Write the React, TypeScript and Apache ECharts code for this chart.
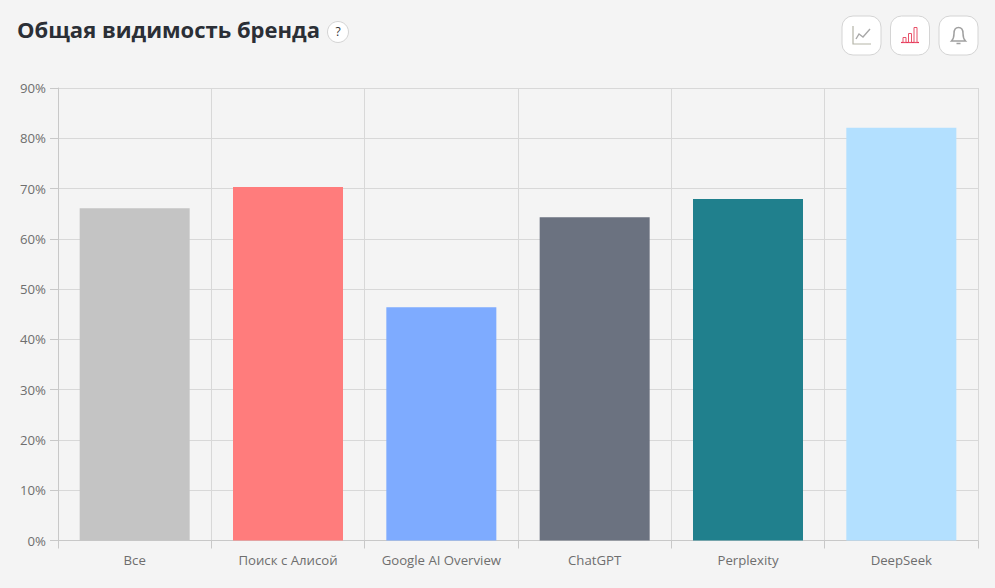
import React, { useEffect, useRef } from "react";
import * as echarts from "echarts";

const categories = ["Все", "Поиск с Алисой", "Google AI Overview", "ChatGPT", "Perplexity", "DeepSeek"];
const visibility = [66.1, 70.3, 46.4, 64.3, 67.9, 82.1];
const barColors = ["#c4c4c4", "#ff7c7c", "#7eabff", "#6b7280", "#20808d", "#b3e0ff"];
const titleText = "Общая видимость бренда";
const FONT = '"Open Sans", sans-serif';

echarts.graphic.registerShape(
  "bellIcon",
  echarts.graphic.extendPath(
    "M1 15 C3 13 3.5 11 3.5 7.5 C3.5 3.5 5.5 1.5 8 1.5 C10.5 1.5 12.5 3.5 12.5 7.5 C12.5 11 13 13 15 15 Z M6 17.5 L10 17.5",
    {}
  )
);

function iconButton(x: number) {
  return {
    type: "rect",
    shape: { x, y: 16, width: 39, height: 39, r: 11 },
    style: { fill: "#ffffff", stroke: "#d4d4d4", lineWidth: 1 },
  };
}

export default function App() {
  const ref = useRef<HTMLDivElement>(null);
  useEffect(() => {
    const chart = echarts.init(ref.current!, null, { renderer: "svg" });
    chart.setOption({
      animation: false,
      backgroundColor: "#f4f4f4",
      textStyle: { fontFamily: FONT },
      grid: { left: 58, right: 17, top: 88, bottom: 47.5, containLabel: false },
      xAxis: {
        type: "category",
        data: categories,
        axisLine: { show: true, lineStyle: { color: "#c8c8c8", width: 1 } },
        axisTick: { show: true, length: 8, alignWithLabel: false, lineStyle: { color: "#c8c8c8" } },
        axisLabel: { color: "#6e6e6e", fontSize: 13.2, fontFamily: FONT, margin: 13, interval: 0 },
        splitLine: { show: true, lineStyle: { color: "#d8d8d8", width: 1 } },
      },
      yAxis: {
        type: "value",
        min: 0,
        max: 90,
        interval: 10,
        axisLine: { show: true, lineStyle: { color: "#c8c8c8", width: 1 } },
        axisTick: { show: true, length: 8, lineStyle: { color: "#c8c8c8" } },
        axisLabel: { color: "#6e6e6e", fontSize: 13.2, fontFamily: FONT, margin: 12, formatter: "{value}%" },
        splitLine: { show: true, lineStyle: { color: "#d8d8d8", width: 1 } },
      },
      series: [
        {
          type: "bar",
          barWidth: 110,
          data: visibility.map((value, i) => ({ value, itemStyle: { color: barColors[i] } })),
        },
      ],
      graphic: [
        {
          type: "text",
          x: 17,
          y: 17.5,
          style: { text: titleText, font: `700 22px ${FONT}`, fill: "#2b2f36" },
        },
        {
          type: "circle",
          shape: { cx: 338, cy: 32, r: 10.5 },
          style: { fill: "#ffffff", stroke: "#d4d4d4", lineWidth: 1 },
        },
        {
          type: "text",
          x: 338,
          y: 31,
          style: { text: "?", font: `400 12px ${FONT}`, fill: "#333333", align: "center", verticalAlign: "middle" },
        },
        iconButton(842),
        iconButton(890.5),
        iconButton(939),
        {
          type: "polyline",
          shape: { points: [[853, 26], [853, 44], [871, 44]] },
          style: { fill: "none", stroke: "#b5b5a8", lineWidth: 1.2 },
        },
        {
          type: "polyline",
          shape: { points: [[856, 39], [859, 34], [863, 37], [870, 29]] },
          style: { fill: "none", stroke: "#a8a8a8", lineWidth: 1.4 },
        },
        {
          type: "line",
          shape: { x1: 901, y1: 42.5, x2: 919, y2: 42.5 },
          style: { stroke: "#e8325a", lineWidth: 1.2 },
        },
        { type: "rect", shape: { x: 903, y: 37.5, width: 3, height: 5 }, style: { fill: "none", stroke: "#e8526a", lineWidth: 1 } },
        { type: "rect", shape: { x: 908.5, y: 33.5, width: 3, height: 9 }, style: { fill: "none", stroke: "#e8526a", lineWidth: 1 } },
        { type: "rect", shape: { x: 914, y: 27.5, width: 3, height: 15 }, style: { fill: "none", stroke: "#e8526a", lineWidth: 1 } },
        {
          type: "bellIcon",
          x: 950.5,
          y: 26,
          style: { fill: "none", stroke: "#a0a0a0", lineWidth: 1.5 },
        },
      ],
    });
    return () => chart.dispose();
  }, []);
  return (
    <div
      ref={ref}
      style={{ position: "absolute", left: 0, top: 0, width: 995, height: 588, background: "#f4f4f4" }}
    />
  );
}
